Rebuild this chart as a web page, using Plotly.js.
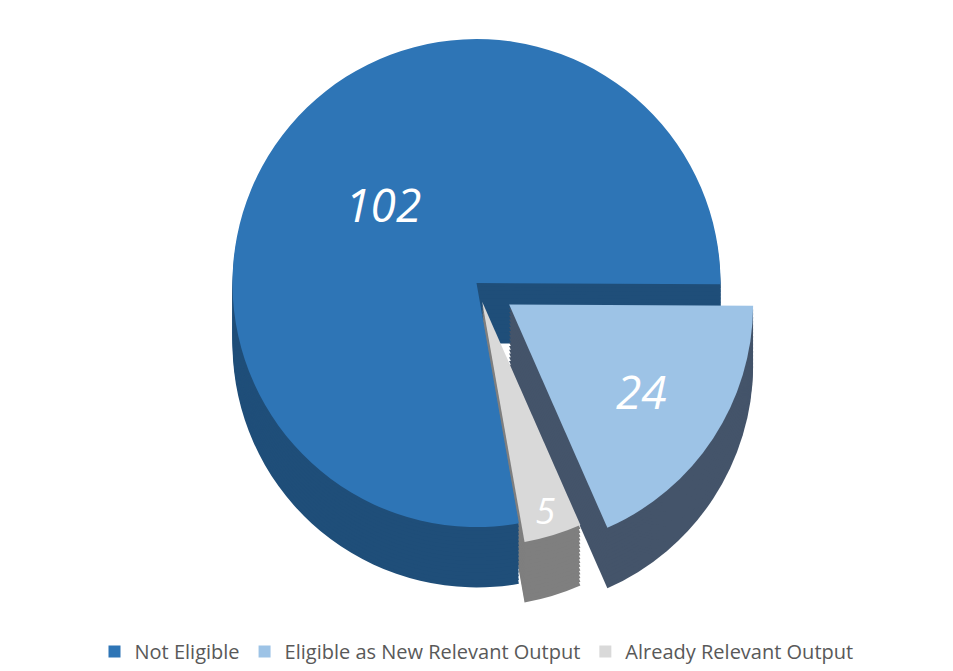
<!DOCTYPE html>
<html>
<head>
<meta charset="utf-8">
<script src="https://cdn.plot.ly/plotly-3.0.1.min.js"></script>
<style>html,body{margin:0;padding:0;background:#fff;}#chart{width:953px;height:671px;}</style>
</head>
<body>
<div id="chart"></div>
<script>
const labels = ['Not Eligible', 'Eligible as New Relevant Output', 'Already Relevant Output'];
const values = [102, 24, 5];
const topColors = ['#2E75B6', '#9DC3E6', '#D9D9D9'];
const sideColors = ['#1F4E79', '#44546A', '#7F7F7F'];
const pulls = [0, 0.16, 0.08];

const depthLayers = 16;
const layerStep = 0.006;
const topDomain = [0.1, 1.0];

const traces = [];
for (let i = depthLayers; i >= 1; i--) {
  traces.push({
    type: 'pie',
    labels: labels,
    values: values,
    sort: false,
    direction: 'clockwise',
    rotation: 170,
    pull: pulls,
    textinfo: 'none',
    hoverinfo: 'skip',
    showlegend: false,
    marker: {colors: sideColors, line: {width: 0}},
    domain: {x: [0, 1], y: [topDomain[0] - i * layerStep, topDomain[1] - i * layerStep]}
  });
}
traces.push({
  type: 'pie',
  labels: labels,
  values: values,
  sort: false,
  direction: 'clockwise',
  rotation: 170,
  pull: pulls,
  textinfo: 'value',
  textposition: 'inside',
  insidetextorientation: 'horizontal',
  insidetextfont: {color: '#ffffff', size: 46, family: 'Open Sans, sans-serif', style: 'italic'},
  marker: {colors: topColors, line: {width: 0}},
  domain: {x: [0, 1], y: topDomain}
});

const layout = {
  width: 953,
  height: 671,
  margin: {l: 5, r: 5, t: 0, b: 40},
  paper_bgcolor: '#ffffff',
  showlegend: true,
  legend: {
    orientation: 'h',
    x: 0.5, xanchor: 'center',
    y: -0.005, yanchor: 'top',
    font: {size: 20, color: '#595959', family: 'Open Sans, sans-serif'},
    traceorder: 'normal'
  }
};

Plotly.newPlot('chart', traces, layout, {displayModeBar: false, staticPlot: true});
</script>
</body>
</html>
